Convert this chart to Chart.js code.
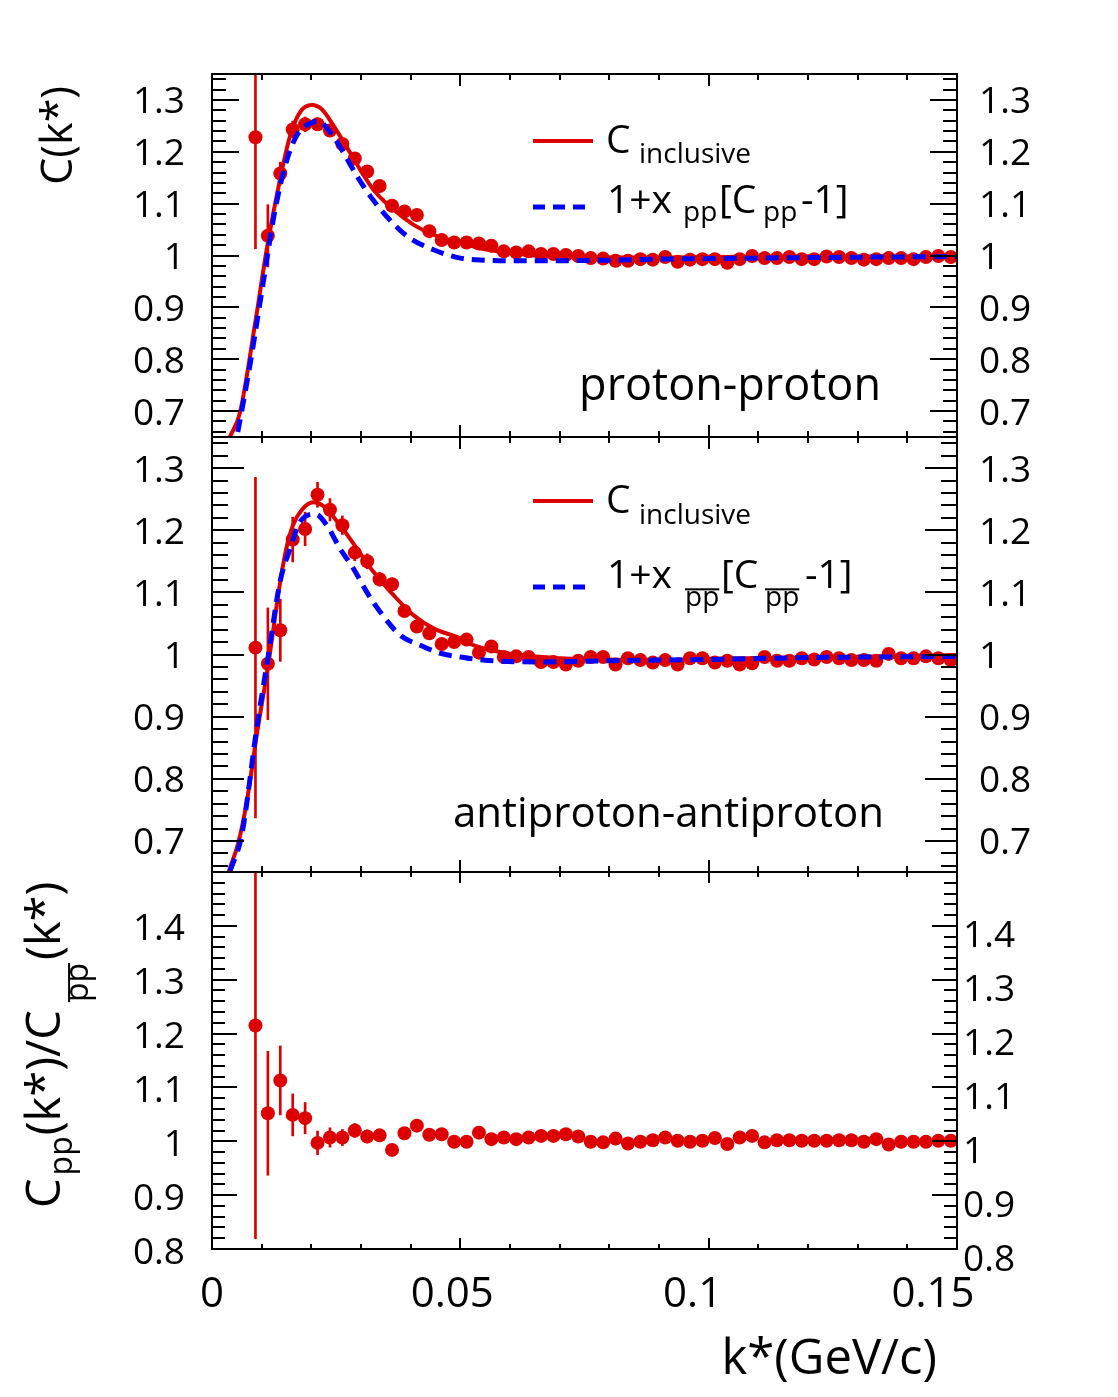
<!DOCTYPE html>
<html><head><meta charset="utf-8">
<script src="https://cdn.jsdelivr.net/npm/chart.js@4.4.1/dist/chart.umd.min.js"></script>
<style>
html,body{margin:0;padding:0;background:#fff;}
#wrap{position:relative;width:1118px;height:1397px;background:#fff;}
canvas{position:absolute;left:0;top:0;}
</style></head><body>
<div id="wrap">
<canvas id="cTop" width="1118" height="1397"></canvas>
<canvas id="cMid" width="1118" height="1397"></canvas>
<canvas id="cBot" width="1118" height="1397"></canvas>
</div>
<script>
// ---------------- data ----------------
const kBins = [0.00875,0.01125,0.01375,0.01625,0.01875,0.02125,0.02375,0.02625,0.02875,0.03125,
  0.03375,0.03625,0.03875,0.04125,0.04375,0.04625,0.04875,0.05125,0.05375,0.05625,
  0.05875,0.06125,0.06375,0.06625,0.06875,0.07125,0.07375,0.07625,0.07875,0.08125,
  0.08375,0.08625,0.08875,0.09125,0.09375,0.09625,0.09875,0.10125,0.10375,0.10625,
  0.10875,0.11125,0.11375,0.11625,0.11875,0.12125,0.12375,0.12625,0.12875,0.13125,
  0.13375,0.13625,0.13875,0.14125,0.14375,0.14625,0.14875];

const ppC = [1.228,1.038,1.158,1.243,1.253,1.253,1.241,1.215,1.187,1.162,
  1.134,1.096,1.085,1.078,1.047,1.030,1.025,1.025,1.023,1.019,
  1.008,1.006,1.008,1.003,1.003,1.001,0.999,0.995,0.994,0.990,
  0.990,0.993,0.992,0.997,0.988,0.992,0.993,0.993,0.986,0.993,
  0.999,0.995,0.995,0.997,0.993,0.993,0.998,0.997,0.995,0.992,
  0.993,0.995,0.995,0.993,0.997,0.999,0.997];
const ppErr = [0.215,0.060,0.022,0.016,0.014,0.012,0.011,0.010,0.009,0.008,
  0.008,0.007,0.007,0.007,0.006,0.006,0.006,0.006,0.005,0.005,
  0.005,0.005,0.005,0.005,0.005,0.005,0.005,0.005,0.005,0.005,
  0.005,0.005,0.005,0.005,0.005,0.005,0.005,0.005,0.005,0.005,
  0.005,0.005,0.005,0.005,0.005,0.005,0.005,0.005,0.005,0.005,
  0.005,0.005,0.005,0.005,0.005,0.005,0.005];

const pbarC = [1.011,0.985,1.039,1.185,1.202,1.257,1.233,1.208,1.164,1.150,
  1.121,1.113,1.070,1.045,1.034,1.017,1.020,1.024,1.003,1.013,
  0.996,0.997,0.996,0.988,0.988,0.984,0.990,0.996,0.996,0.984,
  0.994,0.991,0.987,0.991,0.984,0.994,0.994,0.987,0.990,0.984,
  0.986,0.996,0.990,0.990,0.994,0.992,0.996,0.994,0.991,0.991,
  0.990,1.001,0.994,0.994,0.997,0.994,0.991];
const pbarErr = [0.274,0.090,0.050,0.036,0.027,0.020,0.018,0.015,0.013,0.012,
  0.011,0.010,0.009,0.009,0.008,0.008,0.007,0.007,0.007,0.006,
  0.006,0.006,0.006,0.006,0.006,0.006,0.006,0.006,0.006,0.006,
  0.006,0.006,0.006,0.006,0.006,0.006,0.006,0.006,0.006,0.006,
  0.006,0.006,0.006,0.006,0.006,0.006,0.006,0.006,0.006,0.006,
  0.006,0.006,0.006,0.006,0.006,0.006,0.006];

const ratio = [1.215,1.052,1.113,1.049,1.043,0.997,1.007,1.007,1.020,1.009,
  1.011,0.984,1.015,1.029,1.012,1.013,0.999,0.999,1.016,1.004,
  1.007,1.004,1.007,1.010,1.010,1.013,1.009,0.999,0.998,1.005,
  0.996,0.999,1.002,1.007,1.001,0.999,1.001,1.006,0.995,1.007,
  1.010,0.998,1.002,1.002,1.001,1.001,1.001,1.002,1.002,0.999,
  1.004,0.994,0.999,0.999,0.999,1.001,1.001];
const ratioErr = [0.396,0.115,0.064,0.039,0.029,0.022,0.018,0.015,0.013,0.012,
  0.011,0.010,0.009,0.009,0.008,0.008,0.007,0.007,0.007,0.006,
  0.006,0.006,0.006,0.006,0.006,0.006,0.006,0.006,0.006,0.006,
  0.006,0.006,0.006,0.006,0.006,0.006,0.006,0.006,0.006,0.006,
  0.006,0.006,0.006,0.006,0.006,0.006,0.006,0.006,0.006,0.006,
  0.006,0.006,0.006,0.006,0.006,0.006,0.006];

// curves: C_inclusive (solid) and 1+x[C-1] (dashed)
const ppIncK = [0.0023,0.0036,0.0056,0.0087,0.0110,0.0137,0.0157,0.0177,0.0201,0.0221,0.0245,0.0272,0.0298,0.0325,0.0366,0.0406,0.0446,0.0500,0.0550,0.0600,0.0650,0.0700,0.0800,0.0900,0.1000,0.1200,0.1500];
const ppIncV = [0.620,0.650,0.696,0.870,1.011,1.147,1.230,1.276,1.290,1.282,1.250,1.208,1.166,1.127,1.088,1.059,1.040,1.024,1.012,1.005,1.000,0.998,0.996,0.996,0.997,0.998,0.998];
const ppScK = [0.0044,0.0050,0.0077,0.0103,0.0127,0.0151,0.0174,0.0201,0.0214,0.0241,0.0265,0.0292,0.0319,0.0352,0.0393,0.0446,0.0500,0.0550,0.0600,0.0700,0.0800,0.0900,0.1000,0.1200,0.1500];
const ppScV = [0.620,0.650,0.792,0.947,1.088,1.185,1.237,1.256,1.259,1.234,1.198,1.153,1.114,1.075,1.037,1.011,0.995,0.991,0.990,0.990,0.991,0.993,0.994,0.996,0.998];

const pbarIncK = [0.0021,0.0036,0.0053,0.0070,0.0090,0.01135,0.0137,0.0150,0.0163,0.0181,0.0204,0.0224,0.0258,0.0292,0.0325,0.0366,0.0406,0.0446,0.0500,0.0526,0.0594,0.0700,0.0800,0.0900,0.1000,0.1200,0.1500];
const pbarIncV = [0.620,0.656,0.697,0.763,0.870,0.985,1.115,1.172,1.208,1.233,1.245,1.239,1.208,1.170,1.133,1.095,1.063,1.042,1.026,1.015,1.002,0.994,0.992,0.991,0.993,0.995,0.999];
const pbarScK = [0.0023,0.0036,0.0060,0.0090,0.01135,0.0137,0.0157,0.0177,0.0208,0.0231,0.0258,0.0285,0.0312,0.0339,0.0379,0.0419,0.0460,0.0500,0.0546,0.0660,0.0800,0.1000,0.1200,0.1500];
const pbarScV = [0.620,0.651,0.710,0.881,0.999,1.117,1.170,1.213,1.226,1.208,1.170,1.138,1.100,1.068,1.031,1.015,1.002,0.996,0.991,0.988,0.990,0.992,0.995,0.997];

// axes
const xTicks = [0, 0.05, 0.1, 0.15];
const xTickLabels = ['0', '0.05', '0.1', '0.15'];
const yTicksC = [0.7, 0.8, 0.9, 1.0, 1.1, 1.2, 1.3];
const yTicksRatio = [0.8, 0.9, 1.0, 1.1, 1.2, 1.3, 1.4];

// ---------------- styling ----------------
const RED = '#dc0000';
const BLUE = '#0000ff';
const FONT = '"Open Sans", "Noto Sans", sans-serif';
const fmt = v => String(+(+v).toFixed(2));
const xy = (ks, vs) => ks.map((k, i) => ({x: k, y: vs[i]}));
const errBars = (ks, vs, es) => ks.map((k, i) => ({x: k, y: [vs[i] - es[i], vs[i] + es[i]]}));

const rootAxes = {
  id: 'rootAxes',
  afterDatasetsDraw(chart, args, o) {
    const ctx = chart.ctx, a = chart.chartArea, xs = chart.scales.x, ys = chart.scales.y;
    ctx.save();
    ctx.strokeStyle = '#000';
    ctx.lineWidth = 2;
    ctx.beginPath();
    const st = o.yMinorStep;
    for (let n = Math.ceil(ys.min / st - 1e-6); n * st <= ys.max + 1e-9; n++) {
      const v = n * st;
      const major = Math.abs(v * 10 - Math.round(v * 10)) < 1e-6;
      const L = major ? o.yMajor : o.yMinor;
      const py = Math.round(ys.getPixelForValue(v));
      ctx.moveTo(a.left, py); ctx.lineTo(a.left + L, py);
      ctx.moveTo(a.right, py); ctx.lineTo(a.right - L, py);
    }
    for (let n = 0; n * 0.01 <= xs.max + 1e-9; n++) {
      const major = n % 5 === 0;
      const L = major ? o.xMajor : o.xMinor;
      const px = Math.round(xs.getPixelForValue(n * 0.01));
      ctx.moveTo(px, a.bottom); ctx.lineTo(px, a.bottom - L);
      ctx.moveTo(px, a.top); ctx.lineTo(px, a.top + L);
    }
    ctx.stroke();
    ctx.strokeRect(a.left, a.top, a.right - a.left, a.bottom - a.top);
    ctx.restore();
  }
};

const rootText = {
  id: 'rootText',
  afterDraw(chart, args, o) {
    const ctx = chart.ctx;
    ctx.save();
    ctx.fillStyle = '#000';
    ctx.textBaseline = 'alphabetic';
    (o.lines || []).forEach(l => {
      ctx.save();
      ctx.strokeStyle = l.color; ctx.lineWidth = l.width; ctx.setLineDash(l.dash || []);
      ctx.beginPath(); ctx.moveTo(l.x1, l.y); ctx.lineTo(l.x2, l.y); ctx.stroke();
      ctx.restore();
    });
    (o.texts || []).forEach(t => {
      ctx.font = t.size + 'px ' + FONT;
      ctx.textAlign = t.align || 'left';
      if (t.rot) {
        ctx.save(); ctx.translate(t.x, t.y); ctx.rotate(-Math.PI / 2);
        ctx.fillText(t.t, 0, 0); ctx.restore();
      } else {
        ctx.fillText(t.t, t.x, t.y);
      }
      if (t.over !== undefined) {
        const w = ctx.measureText(t.t).width;
        ctx.fillRect(t.x, t.y - t.size * 0.56 - t.over, w, 2);
      }
    });
    if (o.rotSegs) {
      const r = o.rotSegs;
      ctx.save(); ctx.translate(r.x, r.y); ctx.rotate(-Math.PI / 2); ctx.textAlign = 'left';
      let x = 0;
      r.segs.forEach(s => {
        ctx.font = s.size + 'px ' + FONT;
        const w = ctx.measureText(s.t).width;
        const dy = s.dy || 0;
        ctx.fillText(s.t, x, dy);
        if (s.over !== undefined) ctx.fillRect(x, dy - s.size * 0.56 - s.over, w, 2);
        x += w + (s.gap || 0);
      });
      ctx.restore();
    }
    if (o.xLabels) {
      const xs = chart.scales.x, a = chart.chartArea;
      ctx.font = o.xLabels.size + 'px ' + FONT;
      ctx.textAlign = 'center';
      xTicks.forEach((v, i) => {
        const px = xs.getPixelForValue(v);
        ctx.fillText(xTickLabels[i], px - (px - a.left) * o.xLabels.shift, o.xLabels.y);
      });
    }
    ctx.restore();
  }
};

function yAxis(pos, min, max, ticks, padding, labelOffset) {
  return {
    type: 'linear', position: pos, min: min, max: max,
    afterBuildTicks: s => { s.ticks = ticks.map(v => ({value: v})); },
    afterFit: s => { s.width = pos === 'left' ? 212 : 161; },
    grid: {display: false, drawTicks: false},
    border: {display: false},
    ticks: {autoSkip: false, padding: padding, labelOffset: labelOffset, color: '#000',
      font: {family: FONT, size: 37}, callback: v => fmt(v)}
  };
}

function makePanel(id, cfg) {
  const datasets = [];
  if (cfg.scK) datasets.push(
    {type: 'line', label: 'scaled', data: xy(cfg.scK, cfg.scV), borderColor: BLUE, borderWidth: 5,
     borderDash: [13, 8], pointRadius: 0, cubicInterpolationMode: 'monotone', fill: false, order: 0, clip: 0});
  datasets.push(
    {type: 'scatter', label: 'data', data: xy(kBins, cfg.vals), backgroundColor: RED, borderWidth: 0,
     pointRadius: 7, pointHoverRadius: 7, order: 1, clip: 0},
    {type: 'bar', label: 'err', data: errBars(kBins, cfg.vals, cfg.errs), backgroundColor: RED,
     borderWidth: 0, barThickness: 2, grouped: false, order: 3, clip: 0}
  );
  if (cfg.incK) datasets.push(
    {type: 'line', label: 'inclusive', data: xy(cfg.incK, cfg.incV), borderColor: RED, borderWidth: 4,
     pointRadius: 0, cubicInterpolationMode: 'monotone', fill: false, order: 2, clip: 0});
  return new Chart(document.getElementById(id), {
    type: 'scatter',
    data: {datasets: datasets},
    options: {
      responsive: false, animation: false, devicePixelRatio: 1,
      layout: {padding: {top: cfg.top, bottom: 1397 - cfg.bottom, left: 0, right: 0}},
      plugins: {legend: {display: false}, tooltip: {enabled: false},
        rootAxes: cfg.axes, rootText: cfg.text},
      scales: {
        x: {type: 'linear', min: 0, max: 0.15, display: false, offset: false},
        y: yAxis('left', cfg.min, cfg.max, cfg.ticks, 27, cfg.lOffL),
        y2: yAxis('right', cfg.min, cfg.max, cfg.ticks, cfg.padR, cfg.lOffR)
      }
    },
    plugins: [rootAxes, rootText]
  });
}

makePanel('cTop', {
  top: 74, bottom: 437, min: 0.65, max: 1.35, ticks: yTicksC, padR: 22, lOffL: 3, lOffR: 3,
  vals: ppC, errs: ppErr, incK: ppIncK, incV: ppIncV, scK: ppScK, scV: ppScV,
  axes: {yMinorStep: 0.02, yMajor: 27, yMinor: 14, xMajor: 12, xMinor: 6},
  text: {
    lines: [{x1: 533, x2: 593, y: 141, color: RED, width: 4},
            {x1: 533, x2: 588, y: 207, color: BLUE, width: 5, dash: [12, 8]}],
    texts: [
      {t: 'C(k*)', x: 72, y: 86, size: 43, rot: true, align: 'right'},
      {t: 'C', x: 606, y: 153, size: 39},
      {t: 'inclusive', x: 639, y: 163, size: 28},
      {t: '1+x', x: 607, y: 213, size: 39},
      {t: 'pp', x: 683, y: 221, size: 28},
      {t: '[C', x: 719, y: 213, size: 39},
      {t: 'pp', x: 763, y: 221, size: 28},
      {t: '-1]', x: 801, y: 213, size: 39},
      {t: 'proton-proton', x: 881, y: 400, size: 45, align: 'right'}
    ]
  }
});

makePanel('cMid', {
  top: 437, bottom: 872, min: 0.65, max: 1.35, ticks: yTicksC, padR: 22, lOffL: 3, lOffR: 3,
  vals: pbarC, errs: pbarErr, incK: pbarIncK, incV: pbarIncV, scK: pbarScK, scV: pbarScV,
  axes: {yMinorStep: 0.02, yMajor: 32, yMinor: 16, xMajor: 12, xMinor: 6},
  text: {
    lines: [{x1: 533, x2: 593, y: 501, color: RED, width: 4},
            {x1: 533, x2: 588, y: 587, color: BLUE, width: 5, dash: [12, 8]}],
    texts: [
      {t: 'C', x: 606, y: 513, size: 39},
      {t: 'inclusive', x: 639, y: 524, size: 28},
      {t: '1+x', x: 607, y: 588, size: 39},
      {t: 'pp', x: 685, y: 606, size: 28, over: 2},
      {t: '[C', x: 721, y: 588, size: 39},
      {t: 'pp', x: 765, y: 606, size: 28, over: 2},
      {t: '-1]', x: 805, y: 588, size: 39},
      {t: 'antiproton-antiproton', x: 884, y: 827, size: 42, align: 'right'}
    ]
  }
});

makePanel('cBot', {
  top: 872, bottom: 1249, min: 0.8, max: 1.5, ticks: yTicksRatio, padR: 6, lOffL: 4, lOffR: 11,
  vals: ratio, errs: ratioErr, incK: null, scK: null,
  axes: {yMinorStep: 0.02, yMajor: 25, yMinor: 13, xMajor: 11, xMinor: 5},
  text: {
    texts: [
      {t: 'k*(GeV/c)', x: 937, y: 1374, size: 49, align: 'right'}
    ],
    rotSegs: {x: 60, y: 1208, segs: [
      {t: 'C', size: 47, gap: 3},
      {t: 'pp', size: 32, dy: 12, gap: 1},
      {t: '(k*)/C', size: 47, gap: 8},
      {t: 'pp', size: 32, dy: 28, over: 2, gap: 3},
      {t: '(k*)', size: 47}
    ]},
    xLabels: {size: 42, y: 1307, shift: 0.0323}
  }
});
</script>
</body></html>
